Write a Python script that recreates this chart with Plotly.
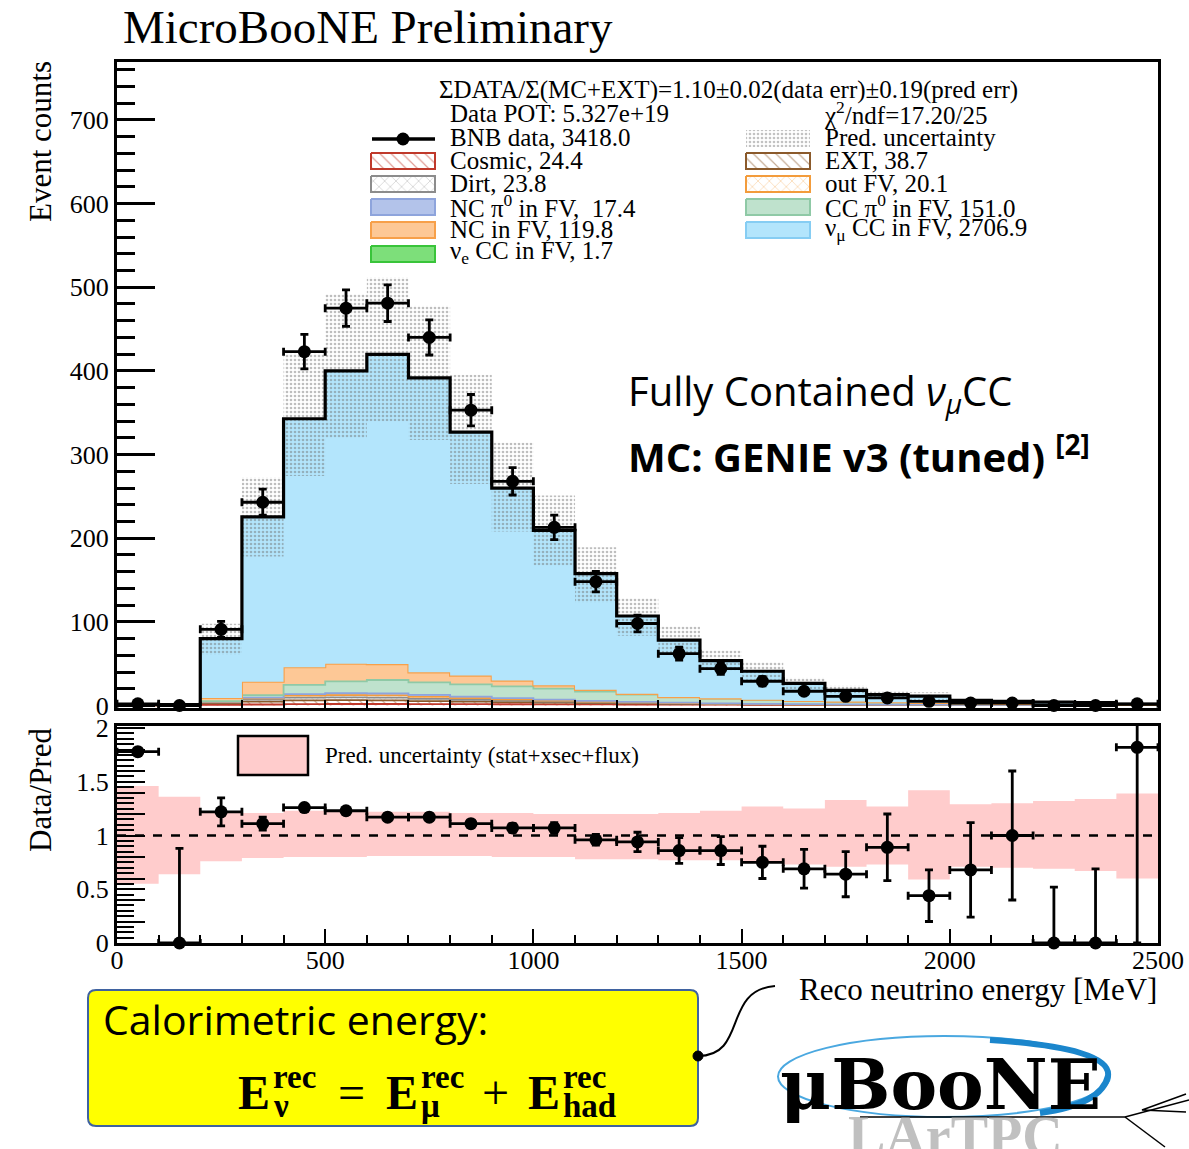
import numpy as np
import plotly.graph_objects as go

# ---------------- data ----------------
bin_edges = list(range(0, 2600, 100))
bin_centers = [e + 50 for e in bin_edges[:-1]]
bin_half = [50] * 25

data_counts = [2, 0, 91, 243, 423, 475, 481, 440, 353, 268, 213, 148, 98, 62, 44,
               29, 17, 11, 9, 5, 3, 3, 0, 0, 2]

cosmic = [0.2, 0.3, 0.8, 1.2, 1.6, 1.8, 1.8, 1.7, 1.6, 1.5, 1.4, 1.3, 1.2, 1.1, 1.0,
          0.9, 0.8, 0.7, 0.6, 0.6, 0.5, 0.5, 0.4, 0.4, 0.4]
ext = [0.3, 0.5, 2.0, 3.5, 4.5, 4.6, 4.2, 3.6, 3.0, 2.5, 2.0, 1.6, 1.3, 1.0, 0.8,
       0.6, 0.5, 0.4, 0.4, 0.3, 0.3, 0.3, 0.2, 0.2, 0.2]
dirt = [0.0, 0.1, 1.0, 2.2, 3.2, 3.4, 3.3, 2.7, 2.2, 1.7, 1.3, 0.9, 0.6, 0.4, 0.3,
        0.2, 0.1, 0.1, 0.1, 0.0, 0.0, 0.0, 0.0, 0.0, 0.0]
out_fv = [0.0, 0.0, 0.6, 1.5, 2.4, 2.7, 2.7, 2.4, 2.0, 1.6, 1.2, 0.9, 0.7, 0.5, 0.3,
          0.2, 0.1, 0.1, 0.1, 0.1, 0.0, 0.0, 0.0, 0.0, 0.0]
nc_pi0 = [0.0, 0.0, 0.3, 1.0, 2.0, 2.4, 2.5, 2.2, 1.9, 1.5, 1.2, 0.9, 0.6, 0.4, 0.2,
          0.1, 0.1, 0.1, 0.0, 0.0, 0.0, 0.0, 0.0, 0.0, 0.0]
cc_pi0 = [0.0, 0.0, 0.5, 3.0, 11.0, 14.0, 16.0, 15.0, 14.5, 14.0, 13.0, 11.0, 8.5, 6.5, 5.5,
          4.5, 3.5, 3.0, 2.5, 2.0, 1.5, 1.0, 0.5, 0.5, 0.0]
nc = [0.0, 0.2, 3.8, 16.0, 21.0, 21.0, 19.0, 12.0, 10.5, 7.0, 4.0, 2.0, 1.0, 0.2, 0.5,
      0.4, 0.3, 0.2, 0.2, 0.1, 0.1, 0.1, 0.1, 0.0, 0.0]
nue_cc = [0.0, 0.0, 0.0, 0.05, 0.1, 0.15, 0.15, 0.15, 0.15, 0.15, 0.15, 0.1, 0.1, 0.1, 0.1,
          0.05, 0.05, 0.05, 0.05, 0.0, 0.0, 0.0, 0.0, 0.0, 0.0]
numu_cc = [0.5, 0.1, 71, 197, 297, 350, 370, 352, 291, 230, 185, 139, 93, 68, 45,
           34, 21, 13.5, 9, 8, 3.6, 3.1, 2.8, 2.4, 0.9]

pred_band_hi = [1.46, 1.36, 1.22, 1.21, 1.23, 1.23, 1.22, 1.22, 1.21, 1.21, 1.20, 1.20, 1.20,
                1.21, 1.23, 1.27, 1.25, 1.33, 1.27, 1.42, 1.29, 1.30, 1.32, 1.34, 1.39]
pred_band_lo = [0.55, 0.64, 0.76, 0.79, 0.80, 0.80, 0.81, 0.81, 0.81, 0.80, 0.80, 0.78, 0.78,
                0.77, 0.77, 0.75, 0.73, 0.71, 0.73, 0.59, 0.71, 0.70, 0.69, 0.67, 0.60]

ratio = [1.78, 0, 1.22, 1.11, 1.26, 1.23, 1.17, 1.17, 1.11, 1.07, 1.07, 0.96, 0.94, 0.86, 0.86,
         0.75, 0.69, 0.64, 0.89, 0.44, 0.68, 1.00, 0, 0, 1.82]
ratio_err_up = [0, 0.88, 0.13, 0.06, 0.03, 0.03, 0.03, 0.03, 0.03, 0.04, 0.05, 0.05, 0.09, 0.12,
                0.13, 0.15, 0.18, 0.21, 0.31, 0.24, 0.44, 0.60, 0.52, 0.69, 1.5]
ratio_err_dn = [0, 0, 0.13, 0.06, 0.03, 0.03, 0.03, 0.03, 0.03, 0.04, 0.05, 0.05, 0.09, 0.12,
                0.13, 0.15, 0.18, 0.21, 0.31, 0.24, 0.44, 0.60, 0, 0, 1.82]

y_ticks_top = [0, 100, 200, 300, 400, 500, 600, 700]
x_tick_labels = [0, 500, 1000, 1500, 2000, 2500]

# ---------------- styles ----------------
SERIF = "Liberation Serif"
SANS = "Open Sans"
W, H = 1189, 1149

components = [
    # name, values, line colour, fill colour, pattern shape, line width
    ("Cosmic", cosmic, "#c0392b", "white", "\\", 1.8),
    ("EXT", ext, "#8b5a2b", "white", "\\", 1.8),
    ("Dirt", dirt, "#8c8c8c", "white", "x", 1.8),
    ("out FV", out_fv, "#f39c3c", "white", "x", 1.8),
    ("NC pi0", nc_pi0, "#8ea4dc", "#b3c3ea", None, 1.8),
    ("CC pi0", cc_pi0, "#8fc9a6", "#bfe2cd", None, 1.8),
    ("NC", nc, "#f7a04a", "#fdc896", None, 2.2),
    ("nue CC", nue_cc, "#39c43a", "#7ddf7a", None, 0),
    ("numu CC", numu_cc, "#86cdf3", "#b3e5fc", None, 1.5),
]


def step(v):
    v = list(v)
    return v + [v[-1]]


fig = go.Figure()

# stacked MC
for name, vals, lc, fc, pat, lw in components:
    kw = {}
    if pat:
        kw["fillpattern"] = dict(shape=pat, fgcolor=lc, bgcolor="white", size=8, solidity=0.15)
    fig.add_trace(go.Scatter(
        x=bin_edges, y=step(vals), mode="lines", stackgroup="mc",
        line=dict(shape="hv", color=lc, width=lw), fillcolor=fc,
        showlegend=False, hoverinfo="skip", xaxis="x", yaxis="y", **kw))

mc_total = np.sum([np.array(c[1], dtype=float) for c in components], axis=0)

# prediction uncertainty band (dotted)
fig.add_trace(go.Scatter(
    x=bin_edges, y=step(mc_total * np.array(pred_band_lo)), mode="lines",
    line=dict(shape="hv", width=0, color="rgba(0,0,0,0)"),
    showlegend=False, hoverinfo="skip", xaxis="x", yaxis="y"))
fig.add_trace(go.Scatter(
    x=bin_edges, y=step(mc_total * np.array(pred_band_hi)), mode="lines",
    line=dict(shape="hv", width=0, color="rgba(0,0,0,0)"), fill="tonexty",
    fillcolor="rgba(0,0,0,0)",
    fillpattern=dict(shape=".", fgcolor="rgba(110,110,110,0.9)", bgcolor="rgba(0,0,0,0)",
                     size=4, solidity=0.35),
    showlegend=False, hoverinfo="skip", xaxis="x", yaxis="y"))

# total MC outline
fig.add_trace(go.Scatter(
    x=bin_edges, y=step(mc_total), mode="lines",
    line=dict(shape="hv", color="black", width=3.2),
    showlegend=False, hoverinfo="skip", xaxis="x", yaxis="y"))

# data
data_err = np.sqrt(np.array(data_counts, dtype=float))
fig.add_trace(go.Scatter(
    x=bin_centers, y=data_counts, mode="markers", marker=dict(size=1, color="black"),
    error_x=dict(type="data", array=bin_half, color="black", thickness=2.8, width=4),
    error_y=dict(type="data", array=data_err, color="black", thickness=2.8, width=4),
    showlegend=False, hoverinfo="skip", xaxis="x", yaxis="y"))
fig.add_trace(go.Scatter(
    x=bin_centers, y=data_counts, mode="markers", marker=dict(size=13, color="black"),
    cliponaxis=False, showlegend=False, hoverinfo="skip", xaxis="x", yaxis="y"))

# ---------------- ratio panel ----------------
fig.add_trace(go.Scatter(
    x=bin_edges, y=step(pred_band_lo), mode="lines",
    line=dict(shape="hv", width=0, color="rgba(0,0,0,0)"),
    showlegend=False, hoverinfo="skip", xaxis="x2", yaxis="y2"))
fig.add_trace(go.Scatter(
    x=bin_edges, y=step(pred_band_hi), mode="lines",
    line=dict(shape="hv", width=0, color="rgba(0,0,0,0)"), fill="tonexty",
    fillcolor="#ffcccc", showlegend=False, hoverinfo="skip", xaxis="x2", yaxis="y2"))
fig.add_trace(go.Scatter(
    x=[0, 2500], y=[1, 1], mode="lines", line=dict(color="black", width=2.5, dash="dash"),
    showlegend=False, hoverinfo="skip", xaxis="x2", yaxis="y2"))
fig.add_trace(go.Scatter(
    x=bin_centers, y=ratio, mode="markers", marker=dict(size=1, color="black"),
    error_x=dict(type="data", array=bin_half, color="black", thickness=2.8, width=4),
    error_y=dict(type="data", array=ratio_err_up, arrayminus=ratio_err_dn,
                 color="black", thickness=2.8, width=4),
    showlegend=False, hoverinfo="skip", xaxis="x2", yaxis="y2"))
fig.add_trace(go.Scatter(
    x=bin_centers, y=ratio, mode="markers", marker=dict(size=13, color="black"),
    cliponaxis=False, showlegend=False, hoverinfo="skip", xaxis="x2", yaxis="y2"))

# ---------------- manual legend (pixel overlay axes) ----------------
def box(x0, y0, x1, y1):
    return [x0, x1, x1, x0, x0], [y0, y0, y1, y1, y0]


legend_rows_left = [161, 184, 207, 230, 254]
legend_rows_right = [161, 184, 207, 230]
left_items = [components[0], components[2], components[4], components[6], components[7]]
right_items = [components[1], components[3], components[5], components[8]]

for items, rows, x0 in ((left_items, legend_rows_left, 371), (right_items, legend_rows_right, 746)):
    for (name, vals, lc, fc, pat, lw), yc in zip(items, rows):
        bx, by = box(x0, yc - 8, x0 + 64, yc + 8)
        kw = {}
        if pat:
            kw["fillpattern"] = dict(shape=pat, fgcolor=lc, bgcolor="white", size=8, solidity=0.15)
        fig.add_trace(go.Scatter(
            x=bx, y=by, mode="lines", fill="toself", fillcolor=fc,
            line=dict(color=lc, width=2), showlegend=False, hoverinfo="skip",
            xaxis="x3", yaxis="y3", **kw))

# pred. uncertainty swatch
bx, by = box(746, 130, 810, 147)
fig.add_trace(go.Scatter(
    x=bx, y=by, mode="lines", fill="toself", fillcolor="rgba(0,0,0,0)",
    fillpattern=dict(shape=".", fgcolor="rgba(120,120,120,0.9)", bgcolor="white", size=4, solidity=0.35),
    line=dict(color="rgba(0,0,0,0)", width=0), showlegend=False, hoverinfo="skip",
    xaxis="x3", yaxis="y3"))
# BNB data swatch
fig.add_trace(go.Scatter(
    x=[372, 435], y=[139, 139], mode="lines", line=dict(color="black", width=3.5),
    showlegend=False, hoverinfo="skip", xaxis="x3", yaxis="y3"))
fig.add_trace(go.Scatter(
    x=[403], y=[139], mode="markers", marker=dict(size=13, color="black"),
    showlegend=False, hoverinfo="skip", xaxis="x3", yaxis="y3"))

ann = []


def text(x, y, s, size, family=SERIF, xanchor="left", yanchor="middle", color="black", angle=0):
    ann.append(dict(x=x, y=y, xref="x3", yref="y3", text=s, showarrow=False,
                    xanchor=xanchor, yanchor=yanchor, textangle=angle,
                    font=dict(family=family, size=size, color=color)))


legend_font = 25
text(728, 90, "ΣDATA/Σ(MC+EXT)=1.10±0.02(data err)±0.19(pred err)", legend_font, xanchor="center")
text(448, 113, "Data POT: 5.327e+19", legend_font)
text(822, 113, "χ<sup>2</sup>/ndf=17.20/25", legend_font)
text(448, 137, "BNB data, 3418.0", legend_font)
text(823, 137, "Pred. uncertainty", legend_font)
text(448, 160, "Cosmic, 24.4", legend_font)
text(823, 160, "EXT, 38.7", legend_font)
text(448, 183, "Dirt, 23.8", legend_font)
text(823, 183, "out FV, 20.1", legend_font)
text(448, 206, "NC π<sup>0</sup> in FV,  17.4", legend_font)
text(823, 206, "CC π<sup>0</sup> in FV, 151.0", legend_font)
text(448, 229, "NC in FV, 119.8", legend_font)
text(823, 229, "ν<sub>μ</sub> CC in FV, 2706.9", legend_font)
text(448, 252, "ν<sub>e</sub> CC in FV, 1.7", legend_font)

# titles / labels
text(121, 27, "MicroBooNE Preliminary", 47)
text(40, 142, "Event counts", 31, xanchor="center", angle=-90)
text(40, 790, "Data/Pred", 31, xanchor="center", angle=-90)
text(1159, 989, "Reco neutrino energy [MeV]", 31, xanchor="right")
text(323, 755, "Pred. uncertainty (stat+xsec+flux)", 23)

text(626, 392, "Fully Contained <i>ν</i><sub><i>μ</i></sub>CC", 40, family=SANS)
text(626, 454, "<b>MC: GENIE v3 (tuned) <sup>[2]</sup></b>", 40, family=SANS)

# yellow box text
text(101, 1019, "Calorimetric energy:", 41, family=SANS)
for xE, sup, sub in ((236, "rec", "ν"), (384, "rec", "μ"), (526, "rec", "had")):
    text(xE, 1092, "<b>E</b>", 48)
    text(xE + 35, 1077, "<b>%s</b>" % sup, 33)
    text(xE + 35, 1106, "<b>%s</b>" % sub, 33)
text(351, 1092, "=", 48, xanchor="center")
text(495, 1092, "+", 48, xanchor="center")

# logo
text(955, 1136, "<b>LArTPC</b>", 56, color="rgba(150,150,150,0.6)", xanchor="center")
text(940, 1084, "<b>μBooNE</b>", 70, family="DejaVu Serif", xanchor="center")

shapes = [
    # ratio-panel legend box
    dict(type="rect", xref="x3", yref="y3", x0=238, y0=736, x1=308, y1=775,
         fillcolor="#ffcccc", line=dict(color="black", width=2.5)),
    # yellow box
    dict(type="path", xref="x3", yref="y3",
         path="M 96 990 L 690 990 Q 698 990 698 998 L 698 1118 Q 698 1126 690 1126 "
              "L 96 1126 Q 88 1126 88 1118 L 88 998 Q 88 990 96 990 Z",
         fillcolor="#ffff00", line=dict(color="#3f62a0", width=2)),
    # connector
    dict(type="path", xref="x3", yref="y3",
         path="M 698 1056 C 748 1056 722 990 775 986",
         line=dict(color="black", width=2)),
    dict(type="circle", xref="x3", yref="y3", x0=693, y0=1051, x1=703, y1=1061,
         fillcolor="black", line=dict(color="black", width=1)),
    # logo ellipse
    dict(type="circle", xref="x3", yref="y3", x0=778, y0=1036, x1=1110, y1=1117,
         line=dict(color="#4aa8e0", width=2)),
    dict(type="path", xref="x3", yref="y3",
         path="M 990 1040 Q 1112 1048 1108 1076 Q 1102 1104 1040 1113",
         line=dict(color="#1b86cc", width=6)),
    dict(type="line", xref="x3", yref="y3", x0=860, y0=1117, x1=1125, y1=1117,
         line=dict(color="black", width=1.5)),
    dict(type="line", xref="x3", yref="y3", x0=1125, y0=1117, x1=1189, y1=1100,
         line=dict(color="black", width=1.5)),
    dict(type="line", xref="x3", yref="y3", x0=1125, y0=1117, x1=1165, y1=1147,
         line=dict(color="black", width=1.5)),
    dict(type="path", xref="x3", yref="y3", path="M 1186 1094 L 1142 1110 L 1186 1112",
         line=dict(color="black", width=1.5)),
]

# ---------------- layout ----------------
x_dom = [117 / W, 1158 / W]
axis_common = dict(showline=True, linecolor="black", linewidth=3, mirror=True,
                   showgrid=False, zeroline=False, ticks="inside", tickcolor="black",
                   automargin=False)

fig.update_layout(
    width=W, height=H, margin=dict(l=0, r=0, t=0, b=0, pad=0, autoexpand=False),
    paper_bgcolor="white", plot_bgcolor="rgba(0,0,0,0)", showlegend=False,
    xaxis=dict(domain=x_dom, range=[0, 2500], anchor="y", tickvals=bin_edges,
               ticklen=8, tickwidth=2, showticklabels=False, **axis_common),
    yaxis=dict(domain=[(H - 708) / H, (H - 62) / H], range=[-3, 769.3], anchor="x",
               tickvals=y_ticks_top, ticklen=38, tickwidth=2.5,
               minor=dict(dtick=20, tick0=0, ticklen=18, tickwidth=2.5, ticks="inside",
                          tickcolor="black"),
               tickfont=dict(family=SERIF, size=26, color="black"), **axis_common),
    xaxis2=dict(domain=x_dom, range=[0, 2500], anchor="y2", tickvals=x_tick_labels,
                ticklen=14, tickwidth=2, ticklabelstandoff=-8,
                minor=dict(dtick=100, tick0=0, ticklen=8, tickwidth=2, ticks="inside",
                           tickcolor="black"),
                tickfont=dict(family=SERIF, size=26, color="black"), **axis_common),
    yaxis2=dict(domain=[(H - 943) / H, (H - 726) / H], range=[0, 2.0186], anchor="x2",
                tickvals=[0, 0.2, 0.4, 0.5, 0.6, 0.8, 1, 1.2, 1.4, 1.5, 1.6, 1.8, 2],
                ticktext=["0", "", "", "0.5", "", "", "1", "", "", "1.5", "", "", "2"],
                ticklen=28, tickwidth=2,
                minor=dict(dtick=0.05, tick0=0, ticklen=17, tickwidth=1.8, ticks="inside",
                           tickcolor="black"),
                tickfont=dict(family=SERIF, size=26, color="black"), **axis_common),
    xaxis3=dict(domain=[0, 1], range=[0, W], anchor="y3", visible=False, fixedrange=True,
                automargin=False),
    yaxis3=dict(domain=[0, 1], range=[H, 0], anchor="x3", visible=False, fixedrange=True,
                automargin=False),
    annotations=ann, shapes=shapes,
)

fig.write_html("out.html")
